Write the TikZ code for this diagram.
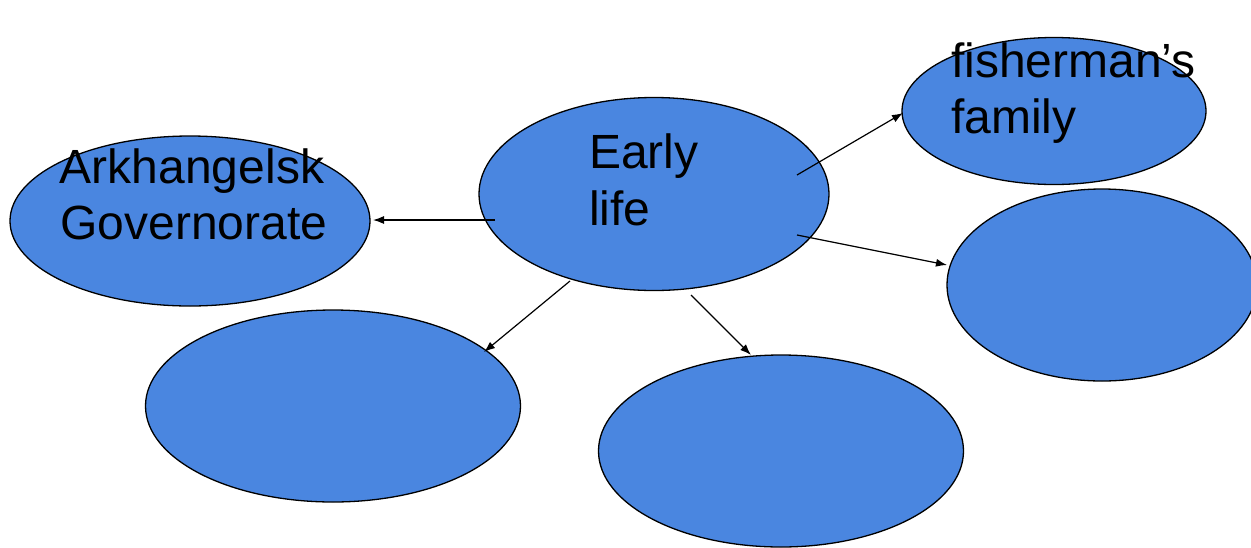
\documentclass[tikz,border=0pt]{standalone}
\usepackage{fontspec}
\setmainfont{Liberation Sans}
\usetikzlibrary{shapes.geometric,arrows.meta}
\definecolor{blobfill}{RGB}{74,134,224}
\begin{document}
\begin{tikzpicture}[x=1pt,y=-1pt,
  blob/.style={draw=black,line width=1.3pt,fill=blobfill,ellipse,inner sep=0pt},
  lbl/.style={anchor=base west,inner sep=0pt,font=\fontsize{48}{56}\selectfont},
  conn/.style={line width=1.2pt,-{Latex[length=11pt,width=8pt]}}]
\useasboundingbox (0,0) rectangle (1251,547);
\node[blob,minimum width=360pt,minimum height=170pt] (ark) at (190,221) {};
\node[blob,minimum width=350pt,minimum height=193pt] (early) at (654,194) {};
\node[blob,minimum width=304pt,minimum height=147pt] (fish) at (1054,111) {};
\node[blob,minimum width=310pt,minimum height=192pt] (right) at (1102,285) {};
\node[blob,minimum width=375pt,minimum height=192pt] (bl) at (333,406) {};
\node[blob,minimum width=365pt,minimum height=192pt] (bm) at (781,451) {};
\node[lbl,anchor=base] (t1) at (192,183) {Arkhangelsk};
\node[lbl,anchor=base] (t2) at (194,239) {Governorate};
\node[lbl] (t3) at (589,168) {Early};
\node[lbl] (t4) at (589,225) {life};
\node[lbl] (t5) at (951,77) {fisherman’s};
\node[lbl] (t6) at (951,133) {family};
\coordinate (s1) at (495,220);
\coordinate (e1) at (373,220);
\coordinate (s2) at (797,175);
\coordinate (e2) at (903,113);
\coordinate (s3) at (797,235);
\coordinate (e3) at (947,265);
\coordinate (s4) at (570,281);
\coordinate (e4) at (484,352);
\coordinate (s5) at (691,295);
\coordinate (e5) at (751,355);
\draw[conn] (s1) -- (e1);
\draw[conn] (s2) -- (e2);
\draw[conn] (s3) -- (e3);
\draw[conn] (s4) -- (e4);
\draw[conn] (s5) -- (e5);
\end{tikzpicture}
\end{document}
